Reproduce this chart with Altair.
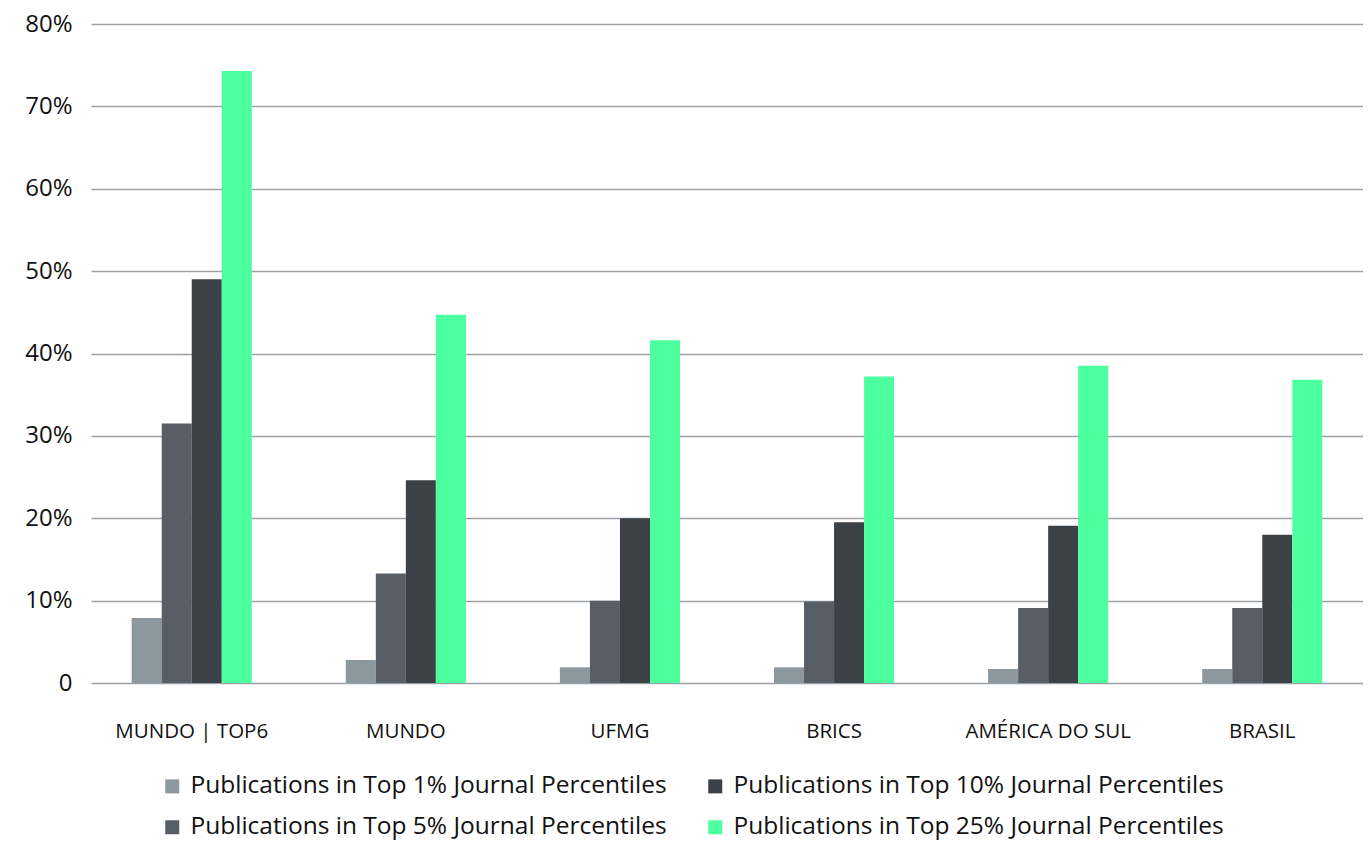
import altair as alt
import pandas as pd

categories = ["MUNDO | TOP6", "MUNDO", "UFMG", "BRICS", "AMÉRICA DO SUL", "BRASIL"]
series = [
    "Publications in Top 1% Journal Percentiles",
    "Publications in Top 5% Journal Percentiles",
    "Publications in Top 10% Journal Percentiles",
    "Publications in Top 25% Journal Percentiles",
]
top1 = [7.9, 2.8, 1.9, 1.9, 1.7, 1.7]
top5 = [31.5, 13.3, 10.0, 9.9, 9.1, 9.1]
top10 = [49.0, 24.6, 20.0, 19.5, 19.1, 18.0]
top25 = [74.3, 44.7, 41.6, 37.2, 38.5, 36.8]
colors = ["#8c979e", "#575e65", "#3c4047", "#4cff9f"]
y_ticks = [0, 10, 20, 30, 40, 50, 60, 70, 80]

rows = []
for s, vals in zip(series, [top1, top5, top10, top25]):
    for c, v in zip(categories, vals):
        rows.append({"category": c, "series": s, "value": v})
df = pd.DataFrame(rows)

FONT = "Open Sans"

chart = (
    alt.Chart(df)
    .mark_bar()
    .encode(
        x=alt.X(
            "category:N",
            sort=categories,
            title=None,
            scale=alt.Scale(paddingInner=0.439, paddingOuter=0.19),
            axis=alt.Axis(
                labelAngle=0,
                ticks=False,
                domain=False,
                labelPadding=38,
                labelFontSize=20.5,
                labelFont=FONT,
                labelColor="#111111",
            ),
        ),
        xOffset=alt.XOffset("series:N", sort=series),
        y=alt.Y(
            "value:Q",
            title=None,
            scale=alt.Scale(domain=[0, 80], nice=False),
            axis=alt.Axis(
                values=y_ticks,
                labelExpr="datum.value == 0 ? '0' : datum.value + '%'",
                ticks=False,
                domain=False,
                labelPadding=19,
                labelFontSize=24,
                labelFont=FONT,
                labelColor="#111111",
                gridColor="#9aa2a8",
                gridWidth=1.6,
            ),
        ),
        color=alt.Color(
            "series:N",
            scale=alt.Scale(domain=series, range=colors),
            legend=alt.Legend(
                title=None,
                orient="none",
                legendX=69,
                legendY=750,
                columns=2,
                columnPadding=36,
                rowPadding=16,
                symbolType="square",
                symbolSize=196,
                symbolStrokeWidth=0,
                labelFontSize=24.5,
                labelFont=FONT,
                labelColor="#111111",
                labelOffset=6,
                labelLimit=700,
            ),
        ),
    )
    .properties(
        width=1272,
        height=659,
        autosize=alt.AutoSizeParams(type="none"),
        padding={"left": 83, "top": 16, "right": 0, "bottom": 158},
    )
    .configure_view(stroke=None)
)

chart.save("out.html", embed_options={"renderer": "svg", "actions": False})
